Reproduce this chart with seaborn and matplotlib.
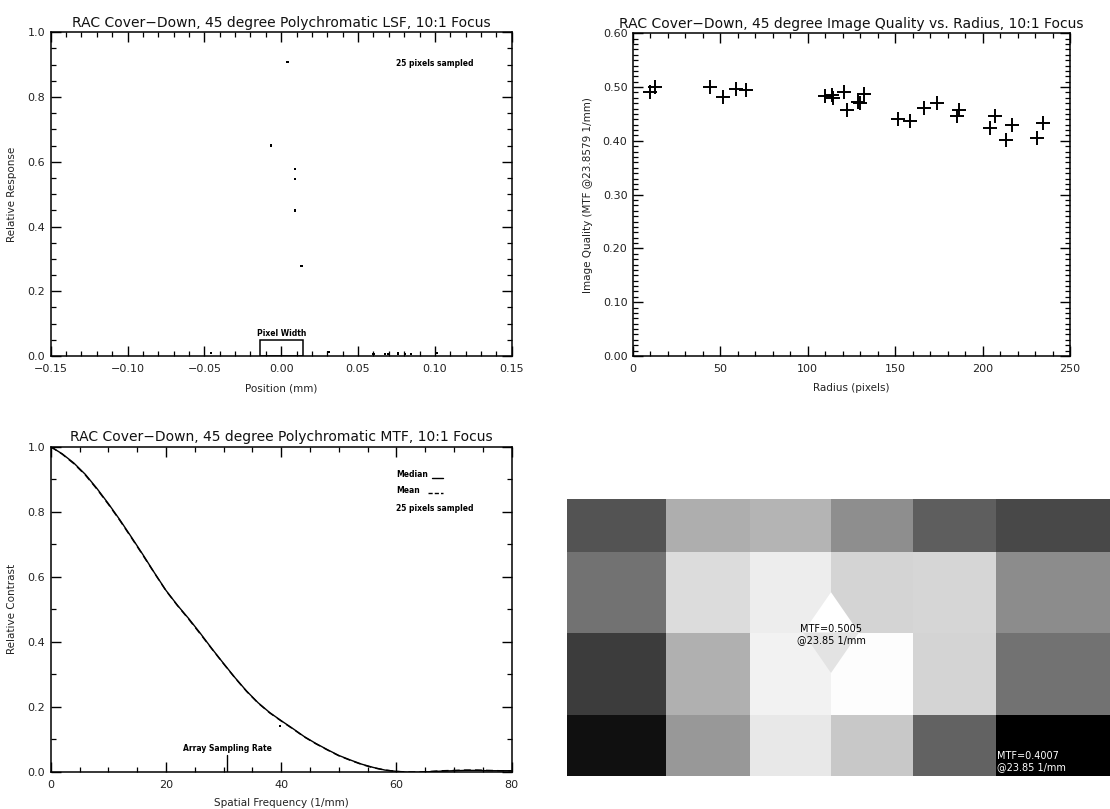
import numpy as np
import pandas as pd
import matplotlib
matplotlib.use("Agg")
import matplotlib.pyplot as plt
from matplotlib.ticker import MultipleLocator, FormatStrFormatter, FuncFormatter
from matplotlib.patches import Rectangle, Polygon
import seaborn as sns

# ---------------- data ----------------
# Polychromatic LSF samples (position mm, relative response)
lsf_pos = [0.0040, -0.0068, 0.0090, 0.0090, 0.0090, 0.0133,
           -0.0457, 0.0307, 0.0600, 0.0676, 0.0697, 0.0762, 0.0806, 0.0843, 0.1012,
           -0.0620, -0.0300, -0.0200, 0.0200, 0.0400, 0.0450, 0.0520, 0.0900, 0.1100, -0.0900]
lsf_resp = [0.909, 0.650, 0.578, 0.547, 0.450, 0.278,
            0.009, 0.012, 0.006, 0.007, 0.006, 0.008, 0.006, 0.007, 0.009,
            -0.003, -0.003, -0.003, -0.003, -0.003, -0.003, -0.003, -0.003, -0.003, -0.003]
pixel_width = 0.028          # mm
pixel_box_height = 0.05

# Image quality vs radius
iq_radius = [9.5, 12.4, 43.8, 51.3, 59.1, 64.6, 110.0, 113.8, 114.7, 120.8, 122.7,
             129.0, 130.0, 131.9, 151.5, 158.5, 166.7, 173.8, 185.2, 186.7,
             204.3, 207.1, 213.4, 216.7, 231.3, 234.4]
iq_mtf = [0.490, 0.500, 0.500, 0.482, 0.497, 0.494, 0.484, 0.485, 0.480, 0.491, 0.458,
          0.473, 0.471, 0.488, 0.440, 0.437, 0.461, 0.470, 0.446, 0.458,
          0.424, 0.446, 0.401, 0.430, 0.406, 0.433]

# Polychromatic MTF curves
mtf_freq = [0, 2, 4, 6, 8, 10, 12, 14, 16, 18, 20, 22, 24, 26, 28, 30, 32, 34, 36, 38,
            40, 42, 44, 46, 48, 50, 52, 54, 56, 58, 60, 62, 64, 66, 68, 70, 72, 74, 76, 78, 80]
mtf_median = [1.000, 0.978, 0.950, 0.915, 0.872, 0.825, 0.775, 0.722, 0.668, 0.612,
              0.558, 0.512, 0.470, 0.425, 0.378, 0.333, 0.289, 0.248, 0.212, 0.182,
              0.157, 0.133, 0.108, 0.087, 0.068, 0.050, 0.036, 0.023, 0.013, 0.005,
              0.001, -0.002, -0.002, 0.000, 0.002, 0.003, 0.004, 0.004, 0.003, 0.003, 0.003]
mtf_mean = [1.000, 0.977, 0.948, 0.913, 0.870, 0.823, 0.773, 0.720, 0.666, 0.611,
            0.557, 0.511, 0.468, 0.423, 0.377, 0.332, 0.288, 0.247, 0.211, 0.181,
            0.156, 0.132, 0.107, 0.086, 0.067, 0.049, 0.035, 0.022, 0.012, 0.005,
            0.001, -0.001, -0.001, 0.001, 0.003, 0.004, 0.005, 0.005, 0.004, 0.003, 0.003]
mtf_stray_freq = [39.8]
mtf_stray_val = [0.140]
array_sampling_rate = 30.6   # 1/mm

# Spatial map of MTF @ 23.85 1/mm (rows top->bottom, cols left->right)
map_values = [
    [0.4331, 0.4688, 0.4711, 0.4562, 0.4375, 0.4289],
    [0.4453, 0.4868, 0.4931, 0.4837, 0.4844, 0.4555],
    [0.4242, 0.4696, 0.4954, 0.4994, 0.4837, 0.4453],
    [0.4070, 0.4601, 0.4915, 0.4790, 0.4390, 0.4007],
]
map_col_edges = [0, 99, 182.5, 264, 346, 429, 543]
map_row_edges = [0, 52.3, 133.3, 215.7, 276.7]
map_vmin, map_vmax = 0.4007, 0.5005

# ---------------- style ----------------
sns.set_theme(style="ticks")
plt.rcParams['font.family'] = ['DejaVu Sans']
plt.rcParams.update({
    "axes.linewidth": 1.1,
    "axes.edgecolor": "black",
    "xtick.direction": "in", "ytick.direction": "in",
    "xtick.top": True, "ytick.right": True,
    "xtick.color": "black", "ytick.color": "black",
    "xtick.labelcolor": "#222222", "ytick.labelcolor": "#222222",
})

W, H = 1110, 809
fig = plt.figure(figsize=(W / 100, H / 100), dpi=100, facecolor="white")

def rect(l, t, r, b):
    return [l / W, 1 - b / H, (r - l) / W, (b - t) / H]

def fmt(spec):
    return FuncFormatter(lambda v, p: (spec % v).replace("-", "\u2212"))

title_kw = dict(fontsize=10, pad=4, color="#111111")
label_kw = dict(fontsize=7.5, color="#222222")
small_kw = dict(fontsize=5.5, fontweight="bold", color="black")

def style_ticks(ax, maj, mino):
    ax.tick_params(which="major", length=maj, width=1.0, labelsize=8, pad=4)
    ax.tick_params(which="minor", length=mino, width=0.9)
    ax.tick_params(axis="x", which="major", pad=6)

# ---- LSF ----
ax1 = fig.add_axes(rect(50.7, 32.3, 511.7, 356))
lsf_df = pd.DataFrame({"pos": lsf_pos, "resp": lsf_resp})
sns.scatterplot(data=lsf_df, x="pos", y="resp", ax=ax1, marker="s", s=3,
                color="black", edgecolor="none", linewidth=0)
ax1.set_xlim(-0.15, 0.15)
ax1.set_ylim(0, 1.0)
ax1.xaxis.set_major_locator(MultipleLocator(0.05))
ax1.xaxis.set_minor_locator(MultipleLocator(0.01))
ax1.yaxis.set_major_locator(MultipleLocator(0.2))
ax1.yaxis.set_minor_locator(MultipleLocator(0.05))
ax1.xaxis.set_major_formatter(fmt("%.2f"))
ax1.yaxis.set_major_formatter(fmt("%.1f"))
style_ticks(ax1, 7, 3.5)
ax1.set_title("RAC Cover\u2212Down, 45 degree Polychromatic LSF, 10:1 Focus", **title_kw)
ax1.set_xlabel("Position (mm)", **label_kw)
ax1.set_ylabel("Relative Response", **label_kw)
ax1.xaxis.set_label_coords(0.5, -0.085)
ax1.yaxis.set_label_coords(-0.073, 0.5)
ax1.add_patch(Rectangle((-pixel_width / 2, 0), pixel_width, pixel_box_height,
                        fill=False, edgecolor="black", linewidth=1.1))
ax1.text(0, pixel_box_height + 0.006, "Pixel Width", ha="center", va="bottom", **small_kw)
ax1.text(0.075, 0.905, "25 pixels sampled", ha="left", va="center", **small_kw)

# ---- Image quality vs radius ----
ax2 = fig.add_axes(rect(633, 33.3, 1070, 356))
iq_df = pd.DataFrame({"radius": iq_radius, "mtf": iq_mtf})
sns.scatterplot(data=iq_df, x="radius", y="mtf", ax=ax2, marker="+", s=90,
                color="black", linewidth=1.4)
ax2.set_xlim(0, 250)
ax2.set_ylim(0, 0.60)
ax2.xaxis.set_major_locator(MultipleLocator(50))
ax2.xaxis.set_minor_locator(MultipleLocator(10))
ax2.yaxis.set_major_locator(MultipleLocator(0.10))
ax2.yaxis.set_minor_locator(MultipleLocator(0.01))
ax2.xaxis.set_major_formatter(FormatStrFormatter("%d"))
ax2.yaxis.set_major_formatter(FormatStrFormatter("%.2f"))
style_ticks(ax2, 7, 3.5)
ax2.set_title("RAC Cover\u2212Down, 45 degree Image Quality vs. Radius, 10:1 Focus", **title_kw)
ax2.set_xlabel("Radius (pixels)", **label_kw)
ax2.set_ylabel("Image Quality (MTF @23.8579 1/mm)", **label_kw)
ax2.xaxis.set_label_coords(0.5, -0.085)
ax2.yaxis.set_label_coords(-0.092, 0.5)

# ---- MTF ----
ax3 = fig.add_axes(rect(50.7, 446.7, 511.7, 771.7))
mtf_df = pd.DataFrame({"freq": mtf_freq + mtf_freq,
                       "val": mtf_median + mtf_mean,
                       "stat": ["Median"] * len(mtf_freq) + ["Mean"] * len(mtf_freq)})
sns.lineplot(data=mtf_df, x="freq", y="val", style="stat", ax=ax3, color="black",
             linewidth=1.0, dashes={"Median": "", "Mean": (5, 3)}, legend=False)
sns.scatterplot(x=mtf_stray_freq, y=mtf_stray_val, ax=ax3, marker="s", s=3,
                color="black", edgecolor="none")
ax3.set_xlim(0, 80)
ax3.set_ylim(0, 1.0)
ax3.xaxis.set_major_locator(MultipleLocator(20))
ax3.xaxis.set_minor_locator(MultipleLocator(5))
ax3.yaxis.set_major_locator(MultipleLocator(0.2))
ax3.yaxis.set_minor_locator(MultipleLocator(0.1))
ax3.xaxis.set_major_formatter(FormatStrFormatter("%d"))
ax3.yaxis.set_major_formatter(FormatStrFormatter("%.1f"))
style_ticks(ax3, 7, 3.5)
ax3.set_title("RAC Cover\u2212Down, 45 degree Polychromatic MTF, 10:1 Focus", **title_kw)
ax3.set_xlabel("Spatial Frequency (1/mm)", **label_kw)
ax3.set_ylabel("Relative Contrast", **label_kw)
ax3.xaxis.set_label_coords(0.5, -0.081)
ax3.yaxis.set_label_coords(-0.073, 0.5)
ax3.plot([array_sampling_rate, array_sampling_rate], [0, 0.05], color="black", linewidth=1.0)
ax3.text(array_sampling_rate, 0.058, "Array Sampling Rate", ha="center", va="bottom", **small_kw)
ax3.text(60, 0.913, "Median", ha="left", va="center", **small_kw)
ax3.plot([66.2, 68.1], [0.905, 0.905], color="black", linewidth=1.0)
ax3.text(60, 0.864, "Mean", ha="left", va="center", **small_kw)
ax3.plot([65.5, 68.1], [0.858, 0.858], color="black", linewidth=1.0, dashes=(3, 1.5))
ax3.text(60, 0.810, "25 pixels sampled", ha="left", va="center", **small_kw)

# ---- MTF map ----
ax4 = fig.add_axes(rect(567, 499.3, 1110, 776))
ax4.pcolormesh(map_col_edges, map_row_edges, np.array(map_values), cmap="gray",
               vmin=map_vmin, vmax=map_vmax, shading="flat")
ax4.set_xlim(map_col_edges[0], map_col_edges[-1])
ax4.set_ylim(map_row_edges[-1], map_row_edges[0])
ax4.set_axis_off()
# interpolation diamond around the peak junction
cx, cy = map_col_edges[3], map_row_edges[2]
hw = 0.34 * (map_col_edges[4] - map_col_edges[3])
hh = 0.49 * (map_row_edges[3] - map_row_edges[2])
ax4.add_patch(Polygon([(cx - hw, cy), (cx, cy - hh), (cx + hw, cy)], closed=True,
                      facecolor="white", edgecolor="none"))
ax4.add_patch(Polygon([(cx - hw, cy), (cx, cy + hh), (cx + hw, cy)], closed=True,
                      facecolor="#e3e3e3", edgecolor="none"))
ax4.text(cx, cy + 2, "MTF=0.5005\n@23.85 1/mm", ha="center", va="center",
         fontsize=7, color="black", linespacing=1.1)
ax4.text(map_col_edges[5] + 1, map_row_edges[4] - 4, "MTF=0.4007\n@23.85 1/mm",
         ha="left", va="bottom", fontsize=7, color="white", linespacing=1.1)

fig.savefig("out.png", dpi=100, facecolor="white")
